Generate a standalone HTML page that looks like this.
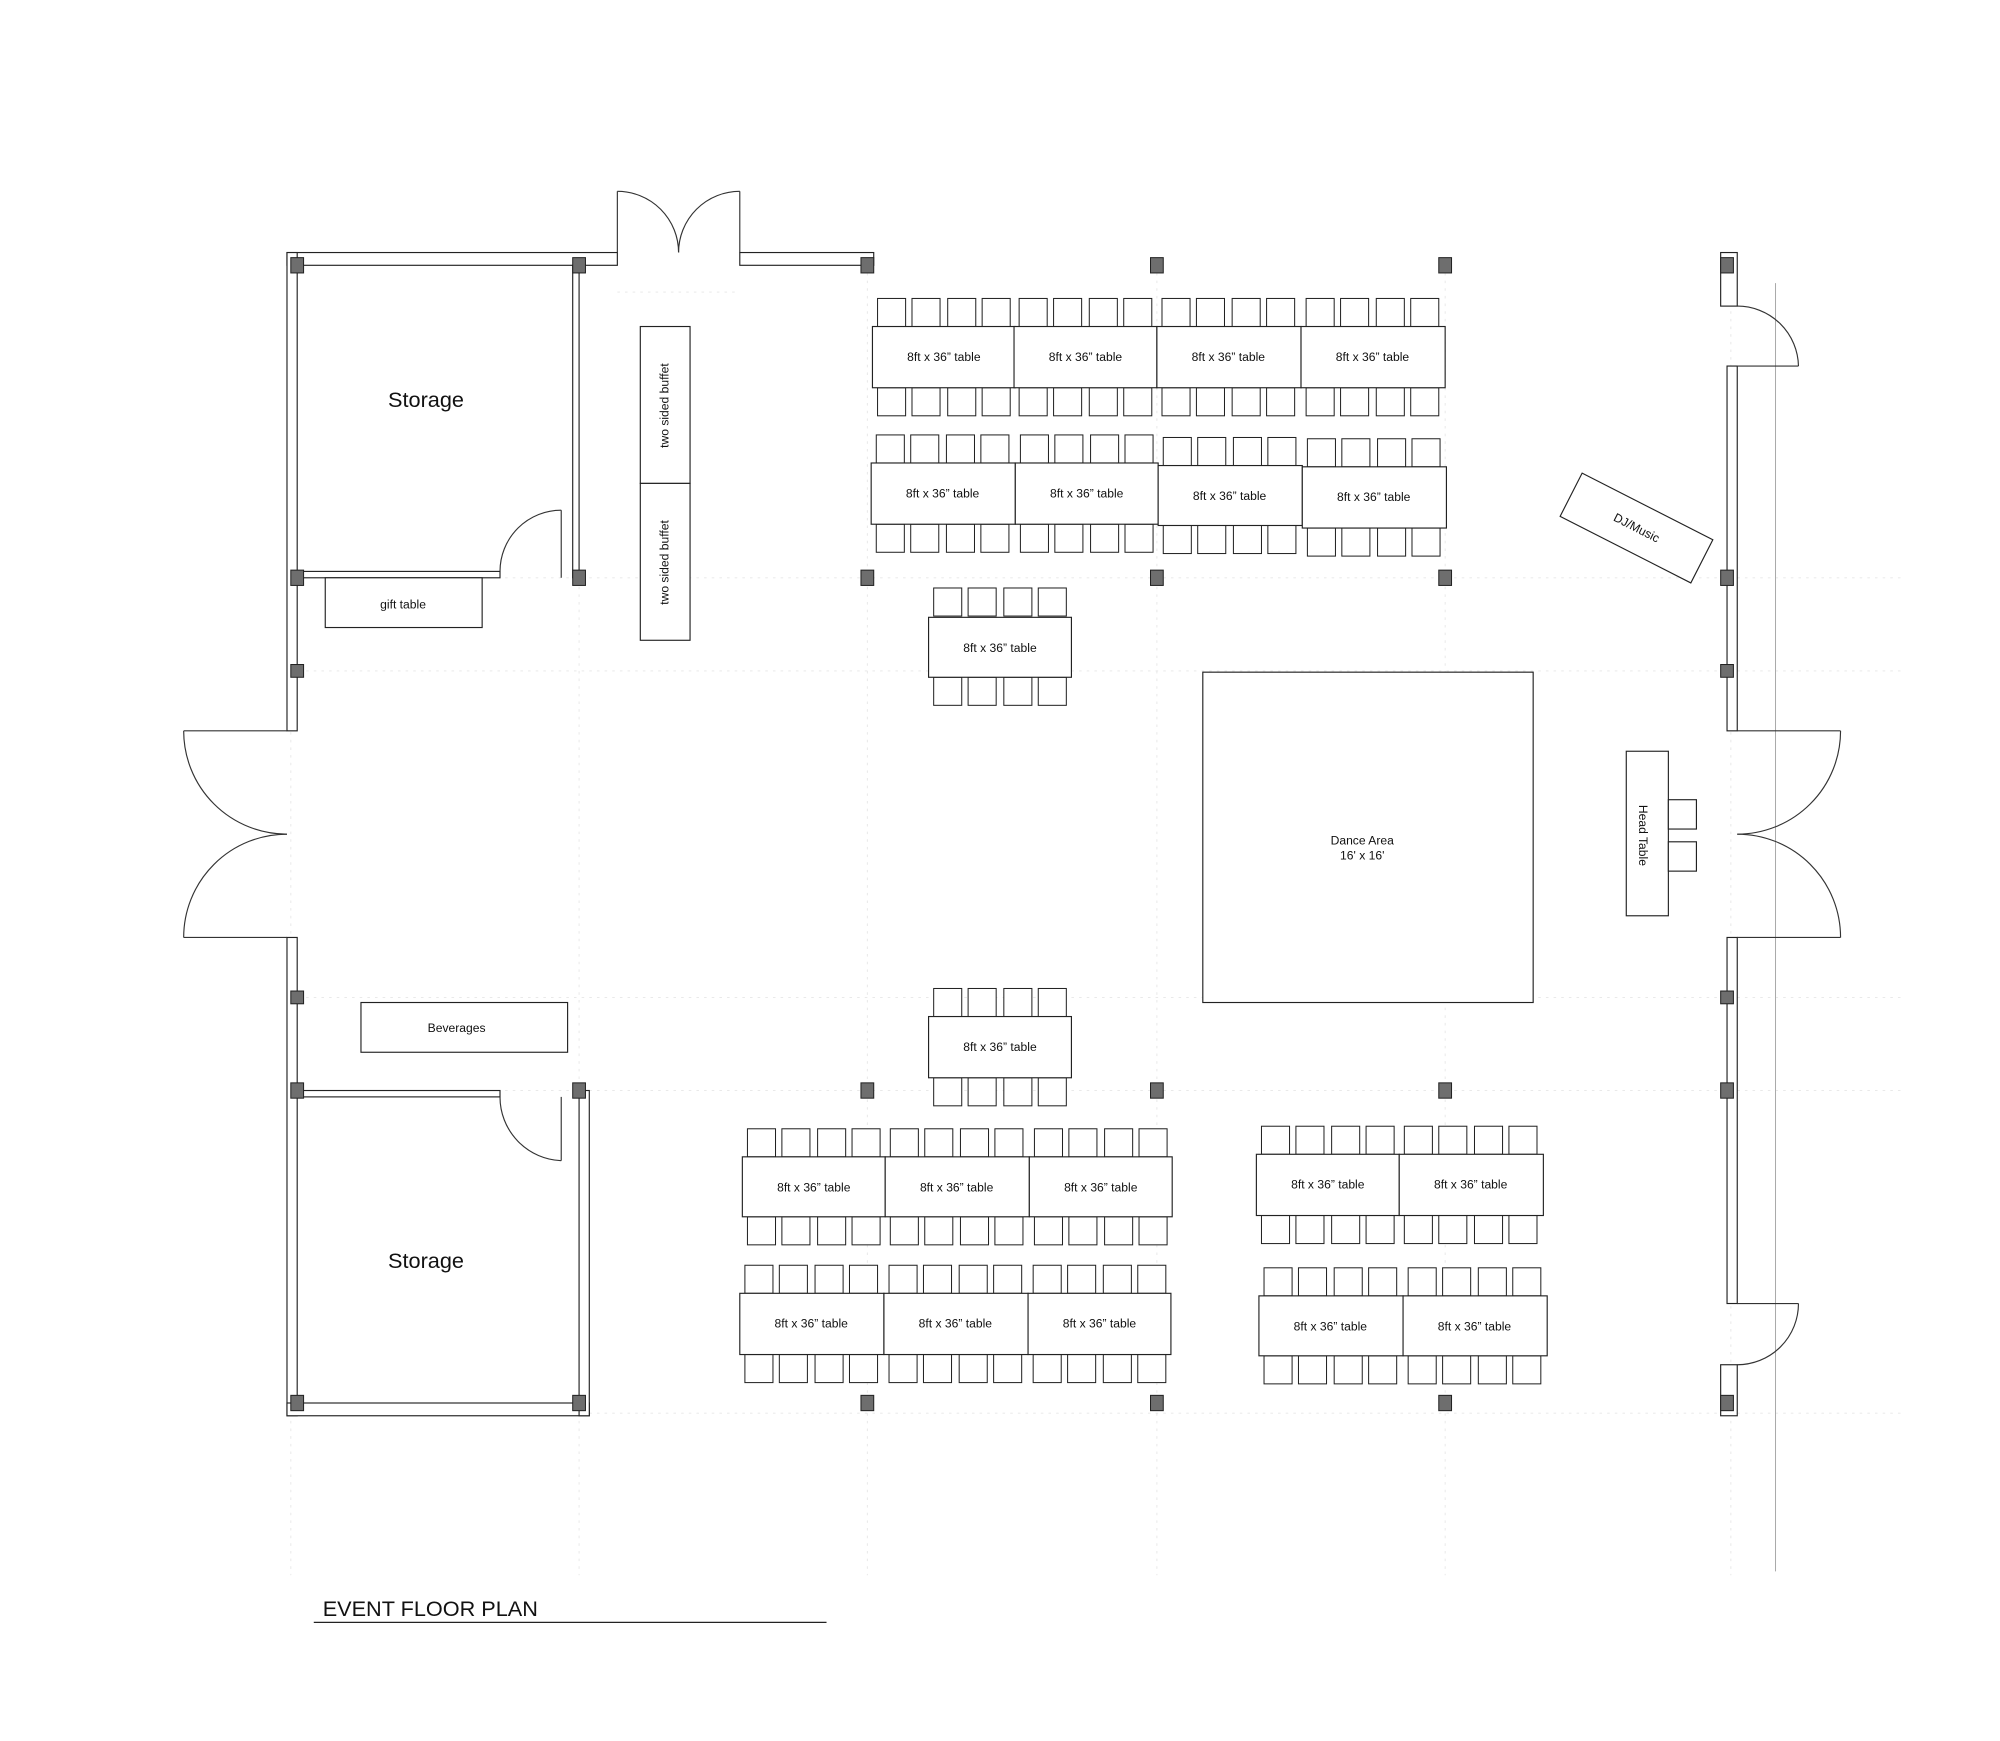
<!DOCTYPE html>
<html><head><meta charset="utf-8"><style>html,body{margin:0;padding:0;background:#fff}svg{display:block}text{font-family:"Liberation Sans",sans-serif;fill:#111}</style></head>
<body>
<svg width="2000" height="1741" viewBox="0 0 1568 1365" preserveAspectRatio="none" xmlns="http://www.w3.org/2000/svg">
<defs>
<g id="ch" fill="#fff" stroke="#222" stroke-width="0.8">
<rect x="4" y="0" width="22" height="22"/><rect x="31" y="0" width="22" height="22"/><rect x="59" y="0" width="22" height="22"/><rect x="86" y="0" width="22" height="22"/>
</g>
</defs>
<rect width="1568" height="1365" fill="#fff"/>
<g stroke="#e6e6e6" stroke-width="0.7" stroke-dasharray="2,4" fill="none">
<line x1="228" y1="453" x2="1490" y2="453"/><line x1="228" y1="526" x2="1490" y2="526"/>
<line x1="228" y1="782" x2="1490" y2="782"/><line x1="228" y1="855" x2="1490" y2="855"/>
<line x1="228" y1="1108" x2="1490" y2="1108"/><line x1="484" y1="229" x2="580" y2="229"/>
<line x1="228" y1="208" x2="228" y2="1235"/><line x1="454" y1="208" x2="454" y2="1235"/>
<line x1="680" y1="208" x2="680" y2="1235"/><line x1="907" y1="208" x2="907" y2="1235"/>
<line x1="1133" y1="208" x2="1133" y2="1235"/><line x1="1357" y1="208" x2="1357" y2="1235"/>
</g>
<line x1="1392" y1="222" x2="1392" y2="1232" stroke="#aaa" stroke-width="0.8"/>
<g fill="#fff" stroke="#222" stroke-width="0.9">
<rect x="225" y="198" width="259" height="10"/>
<rect x="580" y="198" width="105" height="10"/>
<rect x="225" y="198" width="8" height="375"/>
<rect x="225" y="735" width="8" height="375"/>
<rect x="225" y="1100" width="237" height="10"/>
<rect x="233" y="448" width="159" height="5"/>
<rect x="449" y="208" width="5" height="245"/>
<rect x="233" y="855" width="159" height="5"/>
<rect x="454" y="855" width="8" height="255"/>
<rect x="1349" y="198" width="13" height="42"/>
<rect x="1354" y="287" width="8" height="286"/>
<rect x="1354" y="735" width="8" height="287"/>
<rect x="1349" y="1070" width="13" height="40"/>
</g>
<g fill="none" stroke="#333" stroke-width="0.9">
<line x1="484" y1="198" x2="484" y2="150"/><path d="M484,150 A48,48 0 0 1 532,198"/>
<line x1="580" y1="198" x2="580" y2="150"/><path d="M580,150 A48,48 0 0 0 532,198"/>
<line x1="225" y1="573" x2="144" y2="573"/><path d="M144,573 A81,81 0 0 0 225,654"/>
<line x1="225" y1="735" x2="144" y2="735"/><path d="M144,735 A81,81 0 0 1 225,654"/>
<line x1="1362" y1="573" x2="1443" y2="573"/><path d="M1443,573 A81,81 0 0 1 1362,654"/>
<line x1="1362" y1="735" x2="1443" y2="735"/><path d="M1443,735 A81,81 0 0 0 1362,654"/>
<line x1="1362" y1="287" x2="1410" y2="287"/><path d="M1410,287 A48,48 0 0 0 1362,240"/>
<line x1="1362" y1="1022" x2="1410" y2="1022"/><path d="M1410,1022 A48,48 0 0 1 1362,1070"/>
<line x1="440" y1="453" x2="440" y2="400"/><path d="M440,400 A48,48 0 0 0 392,448"/>
<line x1="440" y1="860" x2="440" y2="910"/><path d="M440,910 A50,50 0 0 1 392,860"/>
</g>
<g fill="#6e6e6e" stroke="#222" stroke-width="0.8">
<rect x="228" y="202" width="10" height="12"/><rect x="449" y="202" width="10" height="12"/><rect x="675" y="202" width="10" height="12"/><rect x="902" y="202" width="10" height="12"/><rect x="1128" y="202" width="10" height="12"/><rect x="1349" y="202" width="10" height="12"/>
<rect x="228" y="447" width="10" height="12"/><rect x="449" y="447" width="10" height="12"/><rect x="675" y="447" width="10" height="12"/><rect x="902" y="447" width="10" height="12"/><rect x="1128" y="447" width="10" height="12"/><rect x="1349" y="447" width="10" height="12"/>
<rect x="228" y="521" width="10" height="10"/><rect x="1349" y="521" width="10" height="10"/>
<rect x="228" y="777" width="10" height="10"/><rect x="1349" y="777" width="10" height="10"/>
<rect x="228" y="849" width="10" height="12"/><rect x="449" y="849" width="10" height="12"/><rect x="675" y="849" width="10" height="12"/><rect x="902" y="849" width="10" height="12"/><rect x="1128" y="849" width="10" height="12"/><rect x="1349" y="849" width="10" height="12"/>
<rect x="228" y="1094" width="10" height="12"/><rect x="449" y="1094" width="10" height="12"/><rect x="675" y="1094" width="10" height="12"/><rect x="902" y="1094" width="10" height="12"/><rect x="1128" y="1094" width="10" height="12"/><rect x="1349" y="1094" width="10" height="12"/>
</g>
<use href="#ch" x="684" y="234"/><use href="#ch" x="795" y="234"/><use href="#ch" x="907" y="234"/><use href="#ch" x="1020" y="234"/>
<use href="#ch" x="684" y="304"/><use href="#ch" x="795" y="304"/><use href="#ch" x="907" y="304"/><use href="#ch" x="1020" y="304"/>
<use href="#ch" x="683" y="341"/><use href="#ch" x="796" y="341"/><use href="#ch" x="908" y="343"/><use href="#ch" x="1021" y="344"/>
<use href="#ch" x="683" y="411"/><use href="#ch" x="796" y="411"/><use href="#ch" x="908" y="412"/><use href="#ch" x="1021" y="414"/>
<use href="#ch" x="728" y="461"/><use href="#ch" x="728" y="531"/>
<use href="#ch" x="728" y="775"/><use href="#ch" x="728" y="845"/>
<use href="#ch" x="582" y="885"/><use href="#ch" x="694" y="885"/><use href="#ch" x="807" y="885"/>
<use href="#ch" x="582" y="954"/><use href="#ch" x="694" y="954"/><use href="#ch" x="807" y="954"/>
<use href="#ch" x="580" y="992"/><use href="#ch" x="693" y="992"/><use href="#ch" x="806" y="992"/>
<use href="#ch" x="580" y="1062"/><use href="#ch" x="693" y="1062"/><use href="#ch" x="806" y="1062"/>
<use href="#ch" x="985" y="883"/><use href="#ch" x="1097" y="883"/>
<use href="#ch" x="985" y="953"/><use href="#ch" x="1097" y="953"/>
<use href="#ch" x="987" y="994"/><use href="#ch" x="1100" y="994"/>
<use href="#ch" x="987" y="1063"/><use href="#ch" x="1100" y="1063"/>
<g fill="#fff" stroke="#222" stroke-width="0.9">
<rect x="684" y="256" width="112" height="48"/><rect x="795" y="256" width="112" height="48"/><rect x="907" y="256" width="113" height="48"/><rect x="1020" y="256" width="113" height="48"/>
<rect x="683" y="363" width="113" height="48"/><rect x="796" y="363" width="112" height="48"/><rect x="908" y="365" width="113" height="47"/><rect x="1021" y="366" width="113" height="48"/>
<rect x="728" y="484" width="112" height="47"/><rect x="728" y="797" width="112" height="48"/>
<rect x="582" y="907" width="112" height="47"/><rect x="694" y="907" width="113" height="47"/><rect x="807" y="907" width="112" height="47"/>
<rect x="580" y="1014" width="113" height="48"/><rect x="693" y="1014" width="113" height="48"/><rect x="806" y="1014" width="112" height="48"/>
<rect x="985" y="905" width="112" height="48"/><rect x="1097" y="905" width="113" height="48"/>
<rect x="987" y="1016" width="113" height="47"/><rect x="1100" y="1016" width="113" height="47"/>
<rect x="943" y="527" width="259" height="259"/>
<rect x="1275" y="589" width="33" height="129"/>
<rect x="1308" y="627" width="22" height="23"/><rect x="1308" y="660" width="22" height="23"/>
<rect x="502" y="256" width="39" height="123"/><rect x="502" y="379" width="39" height="123"/>
<rect x="255" y="453" width="123" height="39"/>
<rect x="283" y="786" width="162" height="39"/>
<rect x="-57.5" y="-19" width="115" height="38" transform="translate(1283,414) rotate(27)"/>
</g>
<g font-size="9.5" text-anchor="middle">
<text x="740" y="283">8ft x 36” table</text><text x="851" y="283">8ft x 36” table</text><text x="963" y="283">8ft x 36” table</text><text x="1076" y="283">8ft x 36” table</text>
<text x="739" y="390">8ft x 36” table</text><text x="852" y="390">8ft x 36” table</text><text x="964" y="392">8ft x 36” table</text><text x="1077" y="393">8ft x 36” table</text>
<text x="784" y="511">8ft x 36” table</text><text x="784" y="824">8ft x 36” table</text>
<text x="638" y="934">8ft x 36” table</text><text x="750" y="934">8ft x 36” table</text><text x="863" y="934">8ft x 36” table</text>
<text x="636" y="1041">8ft x 36” table</text><text x="749" y="1041">8ft x 36” table</text><text x="862" y="1041">8ft x 36” table</text>
<text x="1041" y="932">8ft x 36” table</text><text x="1153" y="932">8ft x 36” table</text>
<text x="1043" y="1043">8ft x 36” table</text><text x="1156" y="1043">8ft x 36” table</text>
<text x="1068" y="662">Dance Area</text><text x="1068" y="674">16' x 16'</text>
<text x="316" y="477">gift table</text>
<text x="358" y="809">Beverages</text>
<text transform="translate(1283,414) rotate(27)" y="3">DJ/Music</text>
<text transform="translate(1288,655) rotate(90)" y="3">Head  Table</text>
<text transform="translate(521,318) rotate(-90)" y="3">two sided buffet</text>
<text transform="translate(521,441) rotate(-90)" y="3">two sided buffet</text>
</g>
<g font-size="17" text-anchor="middle"><text x="334" y="319">Storage</text><text x="334" y="994">Storage</text></g>
<text x="253" y="1267" font-size="17">EVENT FLOOR PLAN</text>
<line x1="246" y1="1272" x2="648" y2="1272" stroke="#222" stroke-width="1"/>
</svg>
</body></html>
